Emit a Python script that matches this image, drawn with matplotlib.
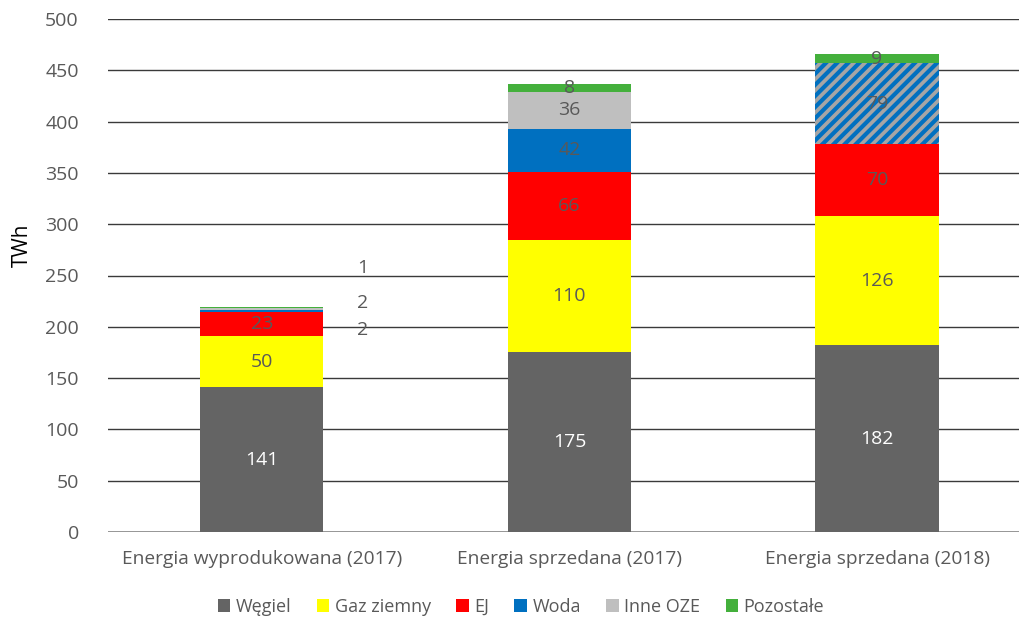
import matplotlib.pyplot as plt
import numpy as np

plt.rcParams['font.family'] = ['Open Sans', 'DejaVu Sans']
plt.rcParams['hatch.linewidth'] = 3.0

categories = ['Energia wyprodukowana (2017)', 'Energia sprzedana (2017)', 'Energia sprzedana (2018)']
wegiel = [141, 175, 182]
gaz = [50, 110, 126]
ej = [23, 66, 70]
woda = [2, 42, 0]
inne_oze = [2, 36, 0]
woda_inne = [0, 0, 79]   # 2018: Woda + Inne OZE combined (hatched)
pozostale = [1, 8, 9]

COLORS = {
    'wegiel': '#646464',
    'gaz': '#FFFF00',
    'ej': '#FF0000',
    'woda': '#0070C0',
    'inne': '#BFBFBF',
    'inne_dark': '#A5A5A5',
    'pozostale': '#44B03C',
    'text': '#595959',
}

fig = plt.figure(figsize=(10.19, 6.19), dpi=100, facecolor='white')
ax = fig.add_axes([108 / 1019, 87 / 619, 911 / 1019, 513 / 619])

x = np.arange(len(categories))
w = 0.4
bottom = np.zeros(len(categories))

series = [
    ('Węgiel', wegiel, COLORS['wegiel'], None),
    ('Gaz ziemny', gaz, COLORS['gaz'], None),
    ('EJ', ej, COLORS['ej'], None),
    ('Woda', woda, COLORS['woda'], None),
    ('Inne OZE', inne_oze, COLORS['inne'], None),
    ('_woda_inne', woda_inne, COLORS['inne_dark'], '///'),
    ('Pozostałe', pozostale, COLORS['pozostale'], None),
]

for name, vals, color, hatch in series:
    vals = np.array(vals, dtype=float)
    if hatch:
        ax.bar(x, vals, w, bottom=bottom, facecolor=color, edgecolor=COLORS['woda'],
               hatch=hatch, linewidth=0, label=name, zorder=3)
    else:
        ax.bar(x, vals, w, bottom=bottom, color=color, linewidth=0, label=name, zorder=3)
    for i, v in enumerate(vals):
        if v <= 0:
            continue
        if i == 0 and v < 5:
            continue
        tc = 'white' if name == 'Węgiel' else COLORS['text']
        ax.text(x[i], bottom[i] + v / 2, f'{int(v)}', ha='center', va='center',
                fontsize=14, color=tc, zorder=4)
    bottom += vals

# small segments of the first bar labelled outside
ax.text(x[0] + 0.328, 197, f'{woda[0]}', ha='center', va='center', fontsize=14, color=COLORS['text'])
ax.text(x[0] + 0.328, 223, f'{inne_oze[0]}', ha='center', va='center', fontsize=14, color=COLORS['text'])
ax.text(x[0] + 0.328, 257, f'{pozostale[0]}', ha='center', va='center', fontsize=14, color=COLORS['text'])

ax.set_xlim(-0.5, -0.5 + 911 / 307.6)
ax.set_ylim(0, 500)
ax.set_yticks(np.arange(0, 501, 50))
ax.yaxis.grid(True, color='#3A3A3A', linewidth=1.0, zorder=0)
ax.set_axisbelow(True)
for s in ax.spines.values():
    s.set_visible(False)
ax.axhline(0, color='#8C8C8C', linewidth=1.2, zorder=2)
ax.tick_params(axis='both', length=0, labelsize=14, colors=COLORS['text'])
ax.tick_params(axis='y', pad=21)
ax.tick_params(axis='x', pad=13)
ax.set_xticks(x)
ax.set_xticklabels(categories, fontsize=13.8)

fig.text(22 / 1019, 1 - 245 / 619, 'TWh', rotation=90, ha='center', va='center',
         fontsize=15, color='#000000')

handles, labels = ax.get_legend_handles_labels()
keep = [(h, l) for h, l in zip(handles, labels) if not l.startswith('_')]
fig.legend([h for h, _ in keep], [l for _, l in keep], loc='center',
           bbox_to_anchor=(521 / 1019, 1 - 607 / 619), ncol=6, frameon=False,
           handlelength=0.7, handleheight=0.7, handletextpad=0.3, columnspacing=1.4,
           fontsize=13, labelcolor=COLORS['text'])

fig.savefig('out.png', dpi=100, facecolor='white')
